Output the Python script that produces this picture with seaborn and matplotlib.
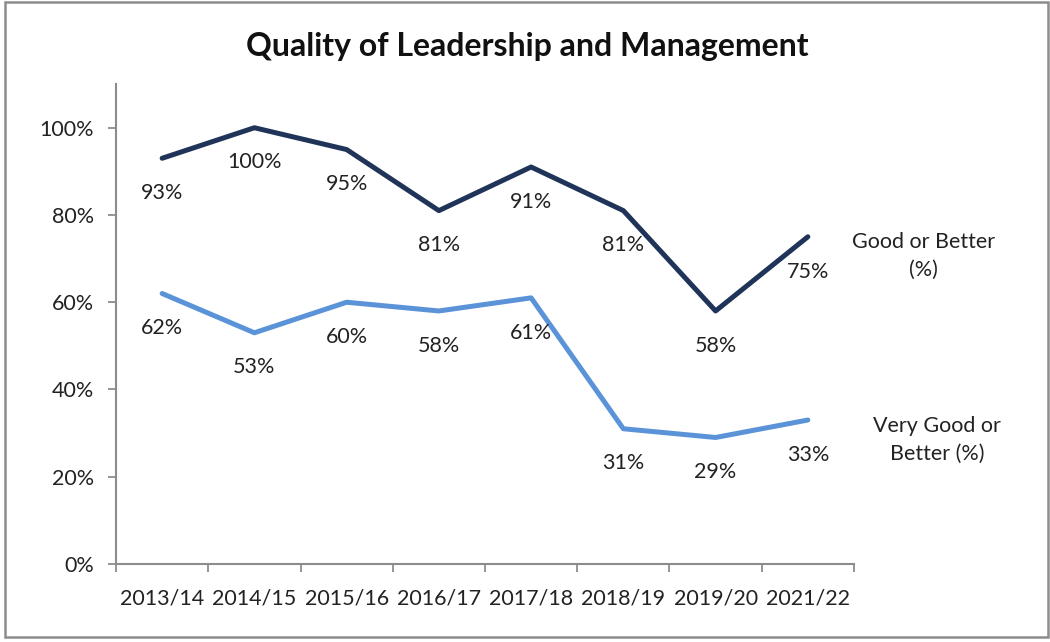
import pandas as pd
import matplotlib
matplotlib.use('Agg')
import matplotlib.pyplot as plt
import seaborn as sns
from matplotlib.patches import Rectangle
from matplotlib.ticker import PercentFormatter, FixedLocator


# Chart data
years = ['2013/14', '2014/15', '2015/16', '2016/17', '2017/18', '2018/19', '2019/20', '2021/22']
good_or_better = [0.93, 1.00, 0.95, 0.81, 0.91, 0.81, 0.58, 0.75]
very_good_or_better = [0.62, 0.53, 0.60, 0.58, 0.61, 0.31, 0.29, 0.33]
series_names = ['Good or Better\n(%)', 'Very Good or\nBetter (%)']
title = 'Quality of Leadership and Management'

colors = {'Good or Better\n(%)': '#1f3458', 'Very Good or\nBetter (%)': '#5b93d8'}

df = pd.DataFrame({'year': years, series_names[0]: good_or_better, series_names[1]: very_good_or_better})
long_df = df.melt(id_vars='year', var_name='series', value_name='value')
long_df['pos'] = long_df['year'].map({y: i for i, y in enumerate(years)})

sns.set_style('white')
plt.rcParams['font.family'] = ['Lato', 'DejaVu Sans']

FS = 15.5
TXT = '#222222'

fig = plt.figure(figsize=(10.5, 6.42), dpi=100)
ax = fig.add_axes([0.1105, 0.1215, 0.7028, 0.7475])

sns.lineplot(data=long_df, x='pos', y='value', hue='series', palette=colors,
             linewidth=3.6, legend=False, ax=ax, solid_capstyle='round', solid_joinstyle='round')

# data labels below each point
for _, row in long_df.iterrows():
    ax.annotate(f"{row['value']:.0%}", xy=(row['pos'], row['value']), xytext=(0, -25),
                textcoords='offset points', ha='center', va='center', fontsize=FS, color=TXT)

# series names to the right of the last point
last = len(years) - 1
ax.annotate(series_names[0], xy=(last, good_or_better[-1]), xytext=(83, -14),
            textcoords='offset points', ha='center', va='center', fontsize=FS,
            color=TXT, linespacing=1.5, annotation_clip=False)
ax.annotate(series_names[1], xy=(last, very_good_or_better[-1]), xytext=(93, -14.5),
            textcoords='offset points', ha='center', va='center', fontsize=FS,
            color=TXT, linespacing=1.5, annotation_clip=False)

ax.set_xlim(-0.5, len(years) - 0.5)
ax.set_ylim(0, 1.1)
ax.set_xticks(range(len(years)))
ax.set_xticklabels(years)
ax.xaxis.set_minor_locator(FixedLocator([i - 0.5 for i in range(len(years) + 1)]))
ax.tick_params(axis='x', which='major', length=0, pad=18, labelsize=FS, labelcolor=TXT)
ax.tick_params(axis='x', which='minor', length=6, width=1.3, color='#8c8c8c', direction='out')
ax.set_yticks([0, 0.2, 0.4, 0.6, 0.8, 1.0])
ax.yaxis.set_major_formatter(PercentFormatter(1.0, decimals=0))
ax.tick_params(axis='y', length=6, width=1.3, color='#8c8c8c', direction='out', labelsize=FS,
               labelcolor=TXT, pad=10)
ax.tick_params(bottom=False, left=True)
ax.tick_params(axis='x', which='minor', bottom=True)

for side in ['top', 'right']:
    ax.spines[side].set_visible(False)
for side in ['left', 'bottom']:
    ax.spines[side].set_color('#8c8c8c')
    ax.spines[side].set_linewidth(1.5)
ax.set_xlabel('')
ax.set_ylabel('')

fig.text(0.502, 0.928, title, ha='center', va='center', fontsize=23, fontweight='bold', color='#111111')

fig.patches.append(Rectangle((5 / 1050, 1 - 637 / 642), 1043 / 1050, 635 / 642,
                             transform=fig.transFigure, fill=False, edgecolor='#8c8c8c', linewidth=1.8))

fig.savefig('out.png', dpi=100)
